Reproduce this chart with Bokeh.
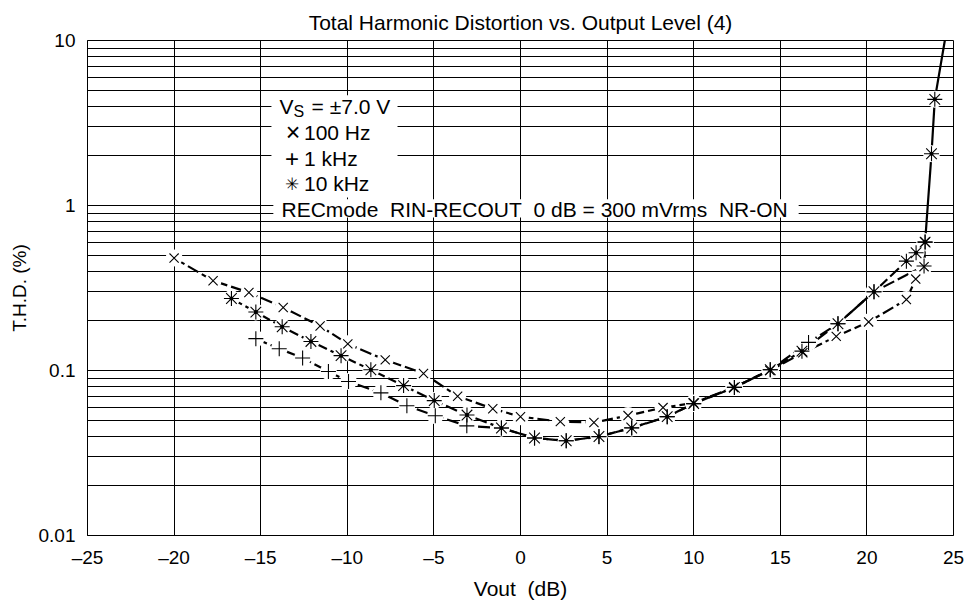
from bokeh.plotting import figure
from bokeh.models import Range1d, FixedTicker, Label, BoxAnnotation
from bokeh.embed import file_html
from bokeh.resources import INLINE

# ---------------- data ----------------
title_text = "Total Harmonic Distortion vs. Output Level (4)"
x_ticks = [-25, -20, -15, -10, -5, 0, 5, 10, 15, 20, 25]
x_tick_labels = ["–25", "–20", "–15", "–10", "–5", "0", "5", "10", "15", "20", "25"]
y_ticks = [0.01, 0.1, 1, 10]
y_tick_labels = ["0.01", "0.1", "1", "10"]

hz100_x = [-20.0, -17.75, -15.68, -13.7, -11.57, -9.97, -7.81, -5.6, -3.63, -1.6, 0.0,
           2.3, 4.24, 6.21, 8.23, 10.0, 12.3, 14.4, 16.3, 18.23, 20.1, 22.28, 22.82, 23.3, 23.36]
hz100_y = [0.48, 0.35, 0.297, 0.241, 0.186, 0.145, 0.116, 0.096, 0.0698, 0.0587, 0.0525,
           0.049, 0.0484, 0.0533, 0.0596, 0.0635, 0.079, 0.1, 0.128, 0.161, 0.197, 0.269, 0.358, 0.426, 0.60]

khz1_x = [-15.28, -13.93, -12.58, -11.09, -9.93, -8.06, -6.56, -4.92, -3.1, -1.1, 0.81,
          2.64, 4.53, 6.42, 8.47, 10.0, 12.35, 14.42, 16.63, 18.33, 20.41, 23.3, 23.36]
khz1_y = [0.156, 0.1355, 0.119, 0.0986, 0.0857, 0.0732, 0.0612, 0.0532, 0.0462, 0.0448, 0.039,
          0.0375, 0.0397, 0.045, 0.0525, 0.063, 0.079, 0.101, 0.148, 0.192, 0.30, 0.43, 0.60]

khz10_x = [-16.69, -15.28, -13.76, -12.1, -10.36, -8.64, -6.75, -4.98, -3.09, -1.1, 0.81,
           2.64, 4.53, 6.42, 8.47, 10.0, 12.35, 14.42, 16.25, 18.33, 20.41, 22.28, 22.84,
           23.36, 23.73, 23.92, 24.5]
khz10_y = [0.273, 0.226, 0.184, 0.150, 0.123, 0.101, 0.081, 0.0657, 0.0537, 0.0448, 0.039,
           0.0375, 0.0398, 0.0448, 0.0525, 0.063, 0.079, 0.101, 0.131, 0.192, 0.300, 0.46, 0.517,
           0.60, 2.06, 4.40, 10.0]
khz10_marked = 26  # last point is where the curve leaves the top of the grid (no marker)
khz10_solid_from = 23  # steep part drawn solid

FONT = "Liberation Sans"
NB = "\u00a0"

p = figure(width=966, height=602,
           x_range=Range1d(-25, 25), y_range=Range1d(0.01, 10),
           y_axis_type="log", output_backend="svg", toolbar_location=None,
           min_border_left=87, min_border_right=13, min_border_top=40, min_border_bottom=66,
           background_fill_color="white", border_fill_color="white")

p.title.text = title_text
p.title.align = "center"
p.title.vertical_align = "bottom"
p.title.text_font = FONT
p.title.text_font_style = "normal"
p.title.text_font_size = "21px"
p.title.text_color = "black"
p.title.text_line_height = 0.7
p.title.standoff = 14

p.outline_line_color = "black"
p.outline_line_width = 1

# axes
p.xaxis.ticker = FixedTicker(ticks=x_ticks)
p.xaxis.major_label_overrides = dict(zip(x_ticks, x_tick_labels))
minor_y = [m * 10.0 ** e for e in (-2, -1, 0) for m in range(2, 10)]
p.yaxis.ticker = FixedTicker(ticks=y_ticks, minor_ticks=minor_y)
p.yaxis.major_label_overrides = dict(zip(y_ticks, y_tick_labels))
for ax in (p.xaxis, p.yaxis):
    ax.major_tick_line_color = None
    ax.minor_tick_line_color = None
    ax.axis_line_color = "black"
    ax.major_label_text_font = FONT
    ax.major_label_text_font_size = "19px"
    ax.major_label_text_color = "black"
    ax.axis_label_text_font = FONT
    ax.axis_label_text_font_style = "normal"
    ax.axis_label_text_color = "black"
p.xaxis.axis_label_text_font_size = "21px"
p.yaxis.axis_label_text_font_size = "19px"
p.xaxis.axis_label = "Vout" + NB + NB + "(dB)"
p.yaxis.axis_label = "T.H.D. (%)"
p.xaxis.major_label_standoff = 5
p.yaxis.major_label_standoff = 6
p.xaxis.axis_label_standoff = 6
p.yaxis.axis_label_standoff = 6

# grid
p.xgrid.grid_line_color = "black"
p.xgrid.grid_line_width = 1
p.ygrid.grid_line_color = "black"
p.ygrid.grid_line_width = 1
p.ygrid.minor_grid_line_color = "black"
p.ygrid.minor_grid_line_width = 1

# legend background boxes (knock out the grid)
p.add_layout(BoxAnnotation(left=-14.38, right=-7.1, top=4.65, bottom=1.12,
                           fill_color="white", fill_alpha=1, line_color=None))
p.add_layout(BoxAnnotation(left=-14.27, right=16.06, top=1.09, bottom=0.845,
                           fill_color="white", fill_alpha=1, line_color=None))

# curves
DASH = "12 4"
p.line(hz100_x, hz100_y, line_color="black", line_width=2.2, line_dash=DASH)
p.line(khz1_x, khz1_y, line_color="black", line_width=2.2, line_dash=DASH)
p.line(khz10_x[:khz10_solid_from + 1], khz10_y[:khz10_solid_from + 1],
       line_color="black", line_width=2.2, line_dash=DASH)
p.line(khz10_x[khz10_solid_from:], khz10_y[khz10_solid_from:],
       line_color="black", line_width=2.2)

# white halos round every marker
for xs, ys in ((hz100_x, hz100_y), (khz1_x, khz1_y),
               (khz10_x[:khz10_marked], khz10_y[:khz10_marked])):
    p.scatter(xs, ys, marker="circle", size=17, fill_color="white", line_color=None)

p.scatter(hz100_x, hz100_y, marker="x", size=13, line_color="black", line_width=1.1)
p.scatter(khz1_x, khz1_y, marker="cross", size=15, line_color="black", line_width=1.1)
p.scatter(khz10_x[:khz10_marked], khz10_y[:khz10_marked], marker="asterisk", size=15,
          line_color="black", line_width=1.1)
p.scatter(khz10_x[:khz10_marked], khz10_y[:khz10_marked], marker="circle", size=4,
          fill_color="black", line_color=None)


def lab(x, y, text, size="21px", xo=0, yo=0, font=FONT):
    p.add_layout(Label(x=x, y=y, text=text, x_offset=xo, y_offset=yo,
                       text_font=font, text_font_size=size, text_color="black",
                       text_baseline="middle", text_align="left"))


lab(-13.91, 4.0, "V")
lab(-13.91, 4.0, "S", size="16px", xo=14, yo=-5)
lab(-13.91, 4.0, "= ±7.0 V", xo=32)
lab(-13.55, 2.77, "×", size="25px")
lab(-13.6, 2.77, "100 Hz", xo=19)
lab(-13.6, 1.93, "+", size="24px")
lab(-13.6, 1.93, "1 kHz", xo=19)
lab(-13.6, 1.35, "✳", size="17px", font="DejaVu Sans")
lab(-13.6, 1.35, "10 kHz", xo=19)
lab(-13.8, 0.95, "RECmode" + NB + NB + "RIN-RECOUT" + NB + NB + "0 dB = 300 mVrms" + NB + NB + "NR-ON")

open("out.html", "w").write(file_html(p, INLINE))
